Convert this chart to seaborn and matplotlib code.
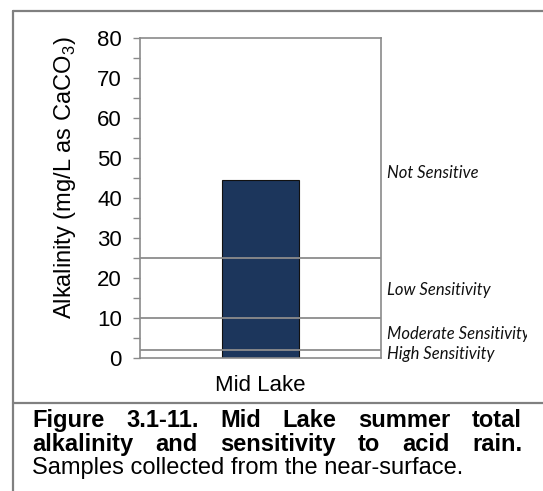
import matplotlib
matplotlib.use("Agg")
import matplotlib.pyplot as plt
from matplotlib.lines import Line2D
from matplotlib.transforms import Bbox, TransformedBbox
import seaborn as sns
import pandas as pd

# Summer total alkalinity at the sampling site (mg/L as CaCO3)
sites = ["Mid Lake"]
alkalinity = [44.4]

# Sensitivity class boundaries and the class names shown beside the plot
thresholds = [2, 10, 25]
class_names = ["High Sensitivity", "Moderate Sensitivity", "Low Sensitivity", "Not Sensitive"]
class_label_y = [0.9, 6.0, 17.0, 46.2]

y_ticks = [0, 10, 20, 30, 40, 50, 60, 70, 80]

caption_lines = [
    ("Figure 3.1-11.  Mid Lake summer total", "bold", True),
    ("alkalinity and sensitivity to acid rain.", "bold", True),
    ("Samples collected from the near-surface.", "normal", False),
]

sns.set_theme(style="white")
plt.rcParams["font.family"] = ["Liberation Sans", "DejaVu Sans"]
plt.rcParams["mathtext.fontset"] = "custom"
plt.rcParams["mathtext.rm"] = "Liberation Sans"

W, H = 543, 491
fig = plt.figure(figsize=(W / 100, H / 100), dpi=100)
fig.patch.set_facecolor("white")

df = pd.DataFrame({"site": sites, "alkalinity": alkalinity})

ax = fig.add_axes([140 / W, 1 - 358 / H, 241 / W, 320 / H])
sns.barplot(data=df, x="site", y="alkalinity", ax=ax, color="#1c365c",
            width=0.32, edgecolor="#111111", linewidth=0.8, saturation=1, zorder=2)

for t in thresholds:
    ax.axhline(t, color="#8c8c8c", lw=1.3, zorder=3)

ax.set_ylim(0, 80)
ax.set_xlim(-0.5, 0.5)
ax.set_yticks(y_ticks)
ax.set_yticks(range(5, 80, 10), minor=True)
ax.set_xlabel("")
ax.set_ylabel("Alkalinity (mg/L as CaCO$_3$)", fontsize=17, color="black")
ax.yaxis.label.set_rotation_mode("default")
ax.yaxis.label.set_verticalalignment("center")
ax.yaxis.set_label_coords((65 - 140) / 241, (358 - 178) / 320)

spine_col = "#8a8a8a"
for s in ax.spines.values():
    s.set_color(spine_col)
    s.set_linewidth(1.2)
    s.set_visible(True)

ax.tick_params(axis="y", which="both", left=True, length=5, width=1.0,
               color=spine_col, labelsize=16, labelcolor="black", pad=8)
ax.tick_params(axis="x", bottom=False, labelsize=16, labelcolor="black", pad=6)

# Class names, clipped at the panel's right margin
clip = TransformedBbox(Bbox([[0, 0], [527 / W, 1]]), fig.transFigure)
for name, yv in zip(class_names, class_label_y):
    t = ax.text(1.025, yv, name, transform=ax.get_yaxis_transform(), ha="left", va="center",
                fontsize=12, style="italic", family=["Lato", "DejaVu Sans"], color="#111111")
    t.set_clip_on(True)
    t.set_clip_box(clip)

# Panel frame and caption divider
frame_col = "#808080"
fig.add_artist(Line2D([13 / W, 13 / W], [0, 1 - 11 / H], color=frame_col, lw=1.6,
                      transform=fig.transFigure))
fig.add_artist(Line2D([13 / W, 1], [1 - 11 / H, 1 - 11 / H], color=frame_col, lw=1.6,
                      transform=fig.transFigure))
fig.add_artist(Line2D([13 / W, 1], [1 - 403 / H, 1 - 403 / H], color=frame_col, lw=1.6,
                      transform=fig.transFigure))

# Justified caption
renderer = fig.canvas.get_renderer()
x_left, x_right = 32, 522
baselines = [427, 451, 474]
cap_size = 17
for (line, weight, justify), base in zip(caption_lines, baselines):
    words = line.split()
    if not justify:
        fig.text(x_left / W, 1 - base / H, line, fontsize=cap_size, fontweight=weight,
                 ha="left", va="baseline", color="black")
        continue
    arts = [fig.text(0, 1 - base / H, w, fontsize=cap_size, fontweight=weight,
                     ha="left", va="baseline", color="black") for w in words]
    widths = [a.get_window_extent(renderer).width for a in arts]
    gap = (x_right - x_left - sum(widths)) / (len(words) - 1)
    x = x_left
    for a, wd in zip(arts, widths):
        a.set_x(x / W)
        x += wd + gap

fig.savefig("out.png", dpi=100, facecolor="white")
